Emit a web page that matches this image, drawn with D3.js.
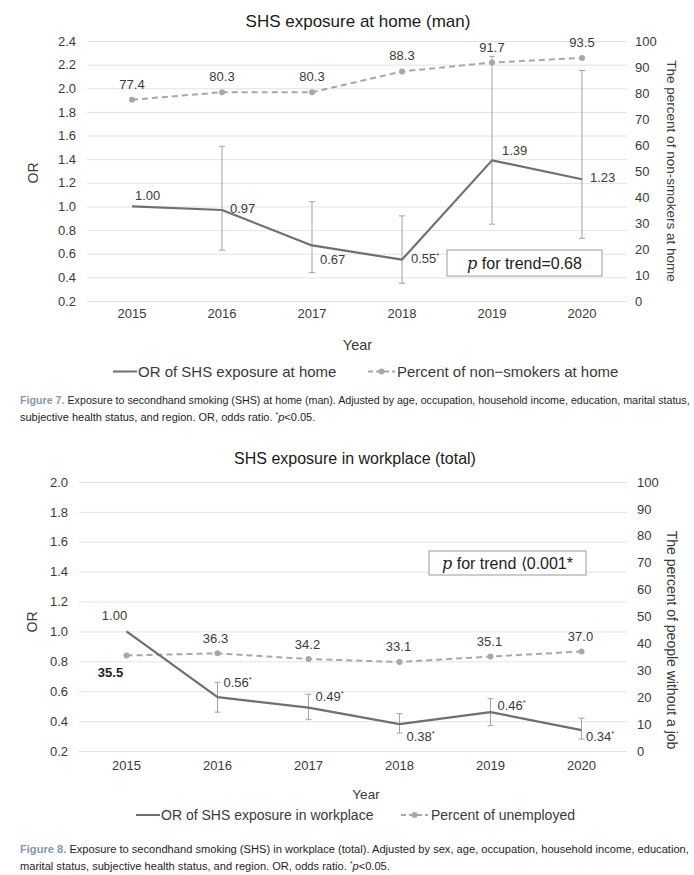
<!DOCTYPE html>
<html>
<head>
<meta charset="utf-8">
<script src="https://cdn.jsdelivr.net/npm/d3@7/dist/d3.min.js"></script>
<style>
  html, body { margin: 0; padding: 0; background: #fff; }
  svg { display: block; font-family: "Liberation Sans", Arial, sans-serif; }
</style>
</head>
<body>
<svg id="chart" width="694" height="875"></svg>
<script>
// ---------- DATA ----------
const years = ["2015", "2016", "2017", "2018", "2019", "2020"];

// Figure 7: home (man)
const homeOR      = [1.00, 0.97, 0.67, 0.55, 1.39, 1.23];
const homeORLow   = [null, 0.63, 0.44, 0.35, 0.85, 0.73];
const homeORHigh  = [null, 1.51, 1.04, 0.92, 2.27, 2.15];
const homeORSig   = [false, false, false, true, false, false];
const homePct     = [77.4, 80.3, 80.3, 88.3, 91.7, 93.5];
const homeLeftTicks  = [0.2, 0.4, 0.6, 0.8, 1.0, 1.2, 1.4, 1.6, 1.8, 2.0, 2.2, 2.4];
const homeRightTicks = [0, 10, 20, 30, 40, 50, 60, 70, 80, 90, 100];

// Figure 8: workplace (total)
const workOR      = [1.00, 0.56, 0.49, 0.38, 0.46, 0.34];
const workORLow   = [null, 0.46, 0.41, 0.32, 0.37, 0.28];
const workORHigh  = [null, 0.66, 0.58, 0.45, 0.55, 0.42];
const workORSig   = [false, true, true, true, true, true];
const workPct     = [35.5, 36.3, 34.2, 33.1, 35.1, 37.0];
const workLeftTicks  = [0.2, 0.4, 0.6, 0.8, 1.0, 1.2, 1.4, 1.6, 1.8, 2.0];
const workRightTicks = [0, 10, 20, 30, 40, 50, 60, 70, 80, 90, 100];

// ---------- STYLE ----------
const C = {
  grid: "#e3e3e3", text: "#3a3a3a", title: "#1a1a1a",
  orLine: "#6f6f6f", pctLine: "#a8a8a8", err: "#a3a3a3",
  box: "#9a9a9a", capBlue: "#8797ad", caption: "#1e1e1e"
};

const svg = d3.select("#chart");

function drawChart(cfg) {
  const g = svg.append("g");
  const x = d3.scaleBand().domain(years).range(cfg.xRange).padding(0);
  const yL = d3.scaleLinear().domain(d3.extent(cfg.leftTicks)).range([cfg.yBottom, cfg.yTop]);
  const yR = d3.scaleLinear().domain(d3.extent(cfg.rightTicks)).range([cfg.yBottom, cfg.yTop]);
  const cx = d => x(d) + x.bandwidth() / 2;

  // title
  g.append("text").attr("x", cfg.titleX).attr("y", cfg.titleY)
    .attr("text-anchor", "middle").attr("font-size", cfg.titleSize)
    .attr("fill", C.title).text(cfg.title);

  // gridlines via left axis
  const gridAxis = d3.axisLeft(yL).tickValues(cfg.leftTicks)
    .tickSize(-(cfg.gridRight - cfg.gridLeft)).tickFormat("");
  const gg = g.append("g").attr("transform", `translate(${cfg.gridLeft},0)`).call(gridAxis);
  gg.select(".domain").remove();
  gg.selectAll("line").attr("stroke", C.grid).attr("stroke-width", 1);

  // left tick labels
  const la = d3.axisLeft(yL).tickValues(cfg.leftTicks).tickSize(0).tickPadding(0)
    .tickFormat(d3.format(".1f"));
  const lg = g.append("g").attr("transform", `translate(${cfg.leftLabelX},0)`).call(la);
  lg.select(".domain").remove();
  lg.selectAll("text").attr("font-size", cfg.tickSize).attr("fill", C.text)
    .attr("font-family", "Liberation Sans, Arial, sans-serif");

  // right tick labels
  const ra = d3.axisRight(yR).tickValues(cfg.rightTicks).tickSize(0).tickPadding(0)
    .tickFormat(d3.format("d"));
  const rg = g.append("g").attr("transform", `translate(${cfg.rightLabelX},0)`).call(ra);
  rg.select(".domain").remove();
  rg.selectAll("text").attr("font-size", cfg.tickSize).attr("fill", C.text)
    .attr("font-family", "Liberation Sans, Arial, sans-serif");

  // bottom tick labels
  const ba = d3.axisBottom(x).tickSize(0).tickPadding(0);
  const bg = g.append("g").attr("transform", `translate(0,${cfg.xLabelY})`).call(ba);
  bg.select(".domain").remove();
  bg.selectAll("text").attr("font-size", cfg.tickSize).attr("fill", C.text)
    .attr("dy", "0").attr("font-family", "Liberation Sans, Arial, sans-serif");

  // axis titles
  g.append("text").attr("transform", `translate(${cfg.orTitleX},${cfg.orTitleY}) rotate(-90)`)
    .attr("text-anchor", "middle").attr("font-size", cfg.axisTitleSize).attr("fill", C.text).text("OR");
  g.append("text").attr("transform", `translate(${cfg.rTitleX},${cfg.rTitleY}) rotate(90)`)
    .attr("text-anchor", "middle").attr("font-size", cfg.rTitleSize).attr("fill", C.text).text(cfg.rTitle);
  g.append("text").attr("x", cfg.yearX).attr("y", cfg.yearY).attr("text-anchor", "middle")
    .attr("font-size", cfg.yearSize).attr("fill", C.text).text("Year");

  // error bars
  const idx = d3.range(years.length).filter(i => cfg.low[i] != null);
  const eb = g.append("g").attr("stroke", C.err).attr("stroke-width", 1).attr("fill", "none");
  idx.forEach(i => {
    const xx = cx(years[i]);
    eb.append("line").attr("x1", xx).attr("x2", xx).attr("y1", yL(cfg.high[i])).attr("y2", yL(cfg.low[i]));
    eb.append("line").attr("x1", xx - 3).attr("x2", xx + 3).attr("y1", yL(cfg.high[i])).attr("y2", yL(cfg.high[i]));
    eb.append("line").attr("x1", xx - 3).attr("x2", xx + 3).attr("y1", yL(cfg.low[i])).attr("y2", yL(cfg.low[i]));
  });

  // percent dashed line
  const pctLine = d3.line().x((d, i) => cx(years[i])).y(d => yR(d));
  g.append("path").datum(cfg.pct).attr("d", pctLine).attr("fill", "none")
    .attr("stroke", C.pctLine).attr("stroke-width", 2).attr("stroke-dasharray", "6,4");
  g.selectAll(null).data(cfg.pct).enter().append("circle")
    .attr("cx", (d, i) => cx(years[i])).attr("cy", d => yR(d)).attr("r", 3).attr("fill", C.pctLine);

  // OR solid line
  const orLine = d3.line().x((d, i) => cx(years[i])).y(d => yL(d));
  g.append("path").datum(cfg.or).attr("d", orLine).attr("fill", "none")
    .attr("stroke", C.orLine).attr("stroke-width", 2.2).attr("stroke-linejoin", "round");

  // OR labels
  cfg.or.forEach((v, i) => {
    const o = cfg.orLabelOff[i];
    const t = g.append("text").attr("x", cx(years[i]) + o[0]).attr("y", yL(v) + o[1])
      .attr("text-anchor", o[2] || "start").attr("font-size", cfg.labelSize).attr("fill", C.text)
      .text(d3.format(".2f")(v));
    if (cfg.sig[i]) {
      t.append("tspan").attr("font-size", cfg.labelSize * 0.6).attr("dy", -5).text("*");
    }
  });

  // pct labels
  cfg.pct.forEach((v, i) => {
    const o = cfg.pctLabelOff[i];
    g.append("text").attr("x", cx(years[i]) + o[0]).attr("y", yR(v) + o[1])
      .attr("text-anchor", "middle").attr("font-size", cfg.labelSize)
      .attr("fill", o[2] ? "#1e1e1e" : C.text).attr("font-weight", o[2] ? "bold" : "normal")
      .text(d3.format(".1f")(v));
  });

  // p for trend box
  const b = cfg.box;
  g.append("rect").attr("x", b.x).attr("y", b.y).attr("width", b.w).attr("height", b.h)
    .attr("fill", "#fff").attr("stroke", C.box).attr("stroke-width", 1);
  const bt = g.append("text").attr("x", b.x + b.w / 2).attr("y", b.y + b.h / 2 + 6)
    .attr("text-anchor", "middle").attr("font-size", b.size).attr("fill", "#222");
  bt.append("tspan").attr("font-style", "italic").attr("font-family", "DejaVu Serif, serif").text("p");
  bt.append("tspan").text(cfg.boxText);

  // legend
  const L = cfg.legend;
  g.append("line").attr("x1", L.l1x[0]).attr("x2", L.l1x[1]).attr("y1", L.y).attr("y2", L.y)
    .attr("stroke", C.orLine).attr("stroke-width", 2);
  g.append("text").attr("x", L.t1x).attr("y", L.y + L.size * 0.36).attr("font-size", L.size)
    .attr("fill", C.text).text(cfg.legend1);
  g.append("line").attr("x1", L.l2x[0]).attr("x2", L.l2x[1]).attr("y1", L.y).attr("y2", L.y)
    .attr("stroke", C.pctLine).attr("stroke-width", 2).attr("stroke-dasharray", "5,3");
  g.append("circle").attr("cx", (L.l2x[0] + L.l2x[1]) / 2).attr("cy", L.y).attr("r", 3).attr("fill", C.pctLine);
  g.append("text").attr("x", L.t2x).attr("y", L.y + L.size * 0.36).attr("font-size", L.size)
    .attr("fill", C.text).text(cfg.legend2);

  // caption (condensed horizontally so line 1 spans the full text width)
  const cap = cfg.caption;
  const capFont = "Liberation Sans, Arial, sans-serif";
  const c1 = g.append("text").attr("x", 0).attr("y", 0).attr("font-size", 11.5)
    .attr("font-family", capFont).attr("fill", C.caption);
  c1.append("tspan").attr("fill", C.capBlue).attr("font-weight", "bold").text(cap.fig + " ");
  c1.append("tspan").text(cap.line1);
  const w1 = c1.node().getComputedTextLength();
  const sx = 670 / w1;
  c1.attr("transform", `translate(20,${cap.y1}) scale(${sx},1)`);

  const c2 = g.append("text").attr("x", 0).attr("y", 0).attr("font-size", 11.5)
    .attr("font-family", capFont).attr("fill", C.caption);
  c2.append("tspan").text(cap.line2 + " ");
  c2.append("tspan").attr("font-size", 7).attr("dy", -4).text("*");
  c2.append("tspan").attr("font-style", "italic").attr("dy", 4).text("p");
  c2.append("tspan").text("<0.05.");
  const w2 = c2.node().getComputedTextLength();
  const sx2 = Math.min(sx * 1.03, cap.w2 / w2);
  c2.attr("transform", `translate(20,${cap.y2}) scale(${sx2},1)`);
}

drawChart({
  title: "SHS exposure at home (man)", titleX: 358, titleY: 27, titleSize: 17,
  xRange: [87, 627], gridLeft: 87, gridRight: 627, yTop: 41, yBottom: 301,
  leftTicks: homeLeftTicks, rightTicks: homeRightTicks,
  leftLabelX: 76, rightLabelX: 635, xLabelY: 318, tickSize: 13,
  orTitleX: 38, orTitleY: 173, axisTitleSize: 14,
  rTitle: "The percent of non-smokers at home", rTitleX: 667, rTitleY: 171, rTitleSize: 13.5,
  yearX: 357.5, yearY: 350, yearSize: 14.5,
  or: homeOR, low: homeORLow, high: homeORHigh, sig: homeORSig, pct: homePct,
  labelSize: 13,
  orLabelOff: [[3, -6], [8, 3], [8, 18.5], [9, 3.5], [10, -5.5], [8, 3]],
  pctLabelOff: [[0, -11], [0, -11], [0, -11], [0, -11], [0, -11], [0, -11]],
  box: { x: 447, y: 250, w: 155, h: 26, size: 16 }, boxText: " for trend=0.68",
  legend: { y: 371.5, size: 15, l1x: [113, 137], t1x: 138, l2x: [368, 395], t2x: 397 },
  legend1: "OR of SHS exposure at home", legend2: "Percent of non\u2212smokers at home",
  caption: { fig: "Figure 7.", y1: 404, y2: 421, w2: 306,
    line1: "Exposure to secondhand smoking (SHS) at home (man). Adjusted by age, occupation, household income, education, marital status,",
    line2: "subjective health status, and region. OR, odds ratio." }
});

drawChart({
  title: "SHS exposure in workplace (total)", titleX: 355, titleY: 464, titleSize: 16,
  xRange: [81, 627], gridLeft: 79, gridRight: 627, yTop: 482, yBottom: 751,
  leftTicks: workLeftTicks, rightTicks: workRightTicks,
  leftLabelX: 68, rightLabelX: 637, xLabelY: 770, tickSize: 13,
  orTitleX: 37, orTitleY: 622, axisTitleSize: 14,
  rTitle: "The percent of people without a job", rTitleX: 667, rTitleY: 640, rTitleSize: 14,
  yearX: 366, yearY: 799, yearSize: 13.5,
  or: workOR, low: workORLow, high: workORHigh, sig: workORSig, pct: workPct,
  labelSize: 13,
  orLabelOff: [[-12, -11.5, "middle"], [6, -10], [7, -7], [7, 17], [7, -2], [4.5, 10.5]],
  pctLabelOff: [[-16, 21, true], [-2, -10.5], [-1, -10.5], [-1, -10.5], [-1, -10.5], [-1, -10.5]],
  box: { x: 429, y: 551, w: 157, h: 24, size: 16 }, boxText: " for trend \u27E80.001*",
  legend: { y: 815, size: 14, l1x: [136, 160], t1x: 161, l2x: [401, 428], t2x: 431 },
  legend1: "OR of SHS exposure in workplace", legend2: "Percent of unemployed",
  caption: { fig: "Figure 8.", y1: 853, y2: 870, w2: 370,
    line1: "Exposure to secondhand smoking (SHS) in workplace (total). Adjusted by sex, age, occupation, household income, education,",
    line2: "marital status, subjective health status, and region. OR, odds ratio." }
});
</script>
</body>
</html>
